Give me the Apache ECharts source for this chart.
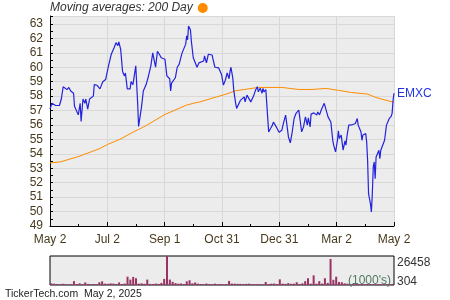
<!DOCTYPE html>
<html><head><meta charset="utf-8">
<script src="https://cdn.jsdelivr.net/npm/echarts@6/dist/echarts.min.js"></script>
<style>html,body{margin:0;padding:0;background:#fff}#c{width:450px;height:300px}</style>
</head><body><div id="c"></div>
<script>
// x tick labels (one every ~2 months, May 2 2024 .. May 2 2025)
const xTickLabels = ['May 2', 'Jul 2', 'Sep 1', 'Oct 31', 'Dec 31', 'Mar 2', 'May 2'];
const spanDays = 365;

// EMXC closing prices: day offset from May 2, 2024 and price
const priceDays = [0,2,4,6,10,12,14,16,18,20,22,23,25,26,28,30,32,33,35,37,38,40,42,44,46,47,50,53,56,59,61,62,65,68,70,72,73,75,77,79,80,82,85,86,88,91,93,94,95,97,99,102,104,105,107,109,110,112,114,116,118,120,122,124,126,127,128,129,131,133,135,137,138,140,142,144,145,146,147,149,150,152,154,156,157,158,160,163,164,166,168,170,172,173,175,177,179,181,182,184,186,188,190,191,192,194,195,197,198,200,202,204,206,207,209,211,213,214,216,218,220,221,223,225,226,227,229,230,232,234,236,237,239,241,243,244,246,248,250,251,253,255,257,259,260,261,262,264,266,267,269,271,273,274,276,277,280,283,284,286,288,290,291,293,295,297,298,300,301,303,305,306,307,309,311,313,314,315,317,318,320,321,324,326,327,330,331,332,335,336,337,338,340,341,342,343,344,345,346,347,349,350,351,353,355,357,359,360,362,363,364,365];
const prices = [57.1,57.5,57.6,57.35,57.35,57.8,58.65,58.65,58.45,58.6,58.35,58.45,58.2,57.3,57.2,56.7,57.5,56.25,57.8,57.5,57.8,57.1,57.8,57.85,58.0,58.8,58.75,58.5,59.0,59.15,59.27,60.08,60.9,61.35,61.7,61.5,61.75,61.24,59.7,59.4,59.6,58.5,58.5,59.0,58.8,60.1,57.5,55.9,56.03,57.2,58.35,58.8,59.27,59.4,60.1,61.0,60.9,60.0,61.1,60.9,60.66,60.6,60.55,59.4,59.5,59.2,58.35,58.9,58.8,59.27,60.0,60.2,60.1,60.96,60.9,61.6,62.17,61.9,62.86,62.6,61.8,60.66,60.6,60.0,60.1,60.3,60.3,60.43,60.78,60.3,60.9,61.0,60.85,60.55,60.0,59.95,59.95,59.85,59.5,58.76,59.1,59.6,59.2,59.7,60.0,59.23,58.4,57.5,57.15,57.07,57.7,57.6,57.95,57.6,58.07,58.2,57.6,57.7,58.0,58.4,58.65,58.3,58.55,58.2,58.53,58.3,58.45,58.4,55.52,55.75,55.99,56.2,55.99,55.75,55.5,55.4,55.64,56.2,56.68,56.2,55.17,54.76,55.52,56.45,56.56,56.8,56.9,57.03,57.15,55.52,55.87,56.56,55.99,56.5,55.87,56.75,56.84,56.68,56.9,56.7,57.07,57.2,57.5,57.03,56.56,56.5,56.2,54.94,54.6,54.13,54.94,55.6,55.06,55.3,54.25,54.9,54.6,55.17,55.99,55.9,56.0,56.1,56.1,56.45,55.99,55.52,54.94,55.3,55.4,54.83,53.56,51.24,50.55,49.97,51.24,53.1,53.44,52.28,53.78,53.9,54.25,53.67,54.25,54.37,54.94,55.99,56.0,56.45,56.6,56.8,57.7,58.2];

// 200-day moving average
const maDays = [0,11,31,53,61,74,90,94,101,122,145,152,159,177,186,197,221,246,264,278,293,306,320,337,346,363,365];
const maValues = [53.37,53.44,53.83,54.37,54.65,55.0,55.57,55.69,55.92,56.73,57.38,57.5,57.6,57.95,58.12,58.37,58.6,58.6,58.46,58.46,58.53,58.4,58.25,58.14,57.9,57.6,57.58];

// Volume (1000's), one bar per 3-day slot
const volumeValues = [1800,1500,1200,800,1400,900,700,1000,3800,1200,1800,1000,2600,1300,900,1200,1000,2800,3600,1500,1400,1800,1600,1200,2600,1200,1600,7800,5200,7600,6400,1500,1800,1400,5200,1300,1200,1600,1300,2200,5800,26458,5200,3200,2000,1500,1700,1200,3600,4600,1800,2600,1500,1200,1000,1600,1200,1000,1500,1000,1200,800,1000,4000,1600,1500,1400,1300,1200,1300,1500,1100,1000,1200,900,700,3000,1200,1500,1600,1200,5400,1500,1300,2000,1400,1500,2800,1200,1800,3800,6400,1500,9000,1500,3800,1600,6400,2200,23800,5000,7800,3000,2800,1800,1500,1200,1400,1000,1200,1300,1000,1100,1200,900,1000,1200,900,1000,1100,1200,1300];
const volumeTicks = [304, 26458];

const toX = d => d * (xTickLabels.length - 1) / spanDays;
const priceData = priceDays.map((d, i) => [toX(d), prices[i]]);
const maData = maDays.map((d, i) => [toX(d), maValues[i]]);
const volCats = volumeValues.map((_, i) => String(i));

const labelColor = '#47391c';
const font = "'Liberation Sans', Arial, sans-serif";

const chart = echarts.init(document.getElementById('c'), null, {renderer: 'canvas'});
chart.setOption({
  animation: false,
  textStyle: {fontFamily: font},
  title: [
    {text: 'TickerTech.com  May 2, 2025', left: 5, top: 289, padding: 0,
     textStyle: {fontSize: 10.5, fontWeight: 'normal', color: '#222', fontFamily: font}},
    {text: "(1000's)", left: 348, top: 275, padding: 0, z: 10,
     textStyle: {fontSize: 12, fontWeight: 'normal', color: '#4e7b62', fontFamily: font}}
  ],
  legend: {
    left: 50, top: 2, padding: 0, align: 'right', itemWidth: 10, itemHeight: 10,
    textStyle: {fontStyle: 'italic', fontSize: 12, color: '#333', fontFamily: font},
    data: [{name: 'Moving averages: 200 Day', icon: 'circle'}]
  },
  grid: [
    {left: 50, top: 16, width: 344, height: 210, show: true, backgroundColor: '#ececec', borderWidth: 0},
    {left: 50, top: 256, width: 344, height: 29, show: true, backgroundColor: '#ececec', borderColor: '#000', borderWidth: 1}
  ],
  xAxis: [
    {type: 'value', gridIndex: 0, min: 0, max: xTickLabels.length - 1, interval: 1,
     axisLine: {show: true, lineStyle: {color: '#000'}},
     axisTick: {show: true, inside: true, length: 4, lineStyle: {color: '#000'}},
     minorTick: {show: true, splitNumber: 2, length: 2, lineStyle: {color: '#000'}},
     splitLine: {show: true, lineStyle: {color: '#d8d8d8'}},
     axisLabel: {margin: 8, fontSize: 12, color: labelColor, fontFamily: font,
       formatter: v => xTickLabels[Math.round(v)] || ''}},
    {type: 'category', gridIndex: 1, data: volCats, show: false, boundaryGap: true}
  ],
  yAxis: [
    {type: 'value', gridIndex: 0, min: 49, max: 63.55, interval: 1,
     axisLine: {show: true, lineStyle: {color: '#000'}},
     axisTick: {show: true, inside: true, length: 3, lineStyle: {color: '#000'}},
     minorTick: {show: true, splitNumber: 2, length: 3, lineStyle: {color: '#000'}},
     splitLine: {show: true, lineStyle: {color: '#d8d8d8'}},
     axisLabel: {margin: 7, fontSize: 12, color: labelColor, fontFamily: font, showMaxLabel: false,
       formatter: v => Number.isInteger(v) ? String(v) : ''}},
    {type: 'value', gridIndex: 1, position: 'right', min: volumeTicks[0], max: volumeTicks[1],
     interval: volumeTicks[1] - volumeTicks[0],
     axisLine: {show: false}, axisTick: {show: false}, splitLine: {show: false},
     axisLabel: {margin: 3, fontSize: 12, color: '#333', fontFamily: font,
       formatter: v => v === volumeTicks[1] ? '{t|' + v + '}' : '{b|' + v + '}',
       rich: {t: {padding: [14, 0, 0, 0], fontSize: 12, color: '#333'}, b: {padding: [0, 0, 7, 0], fontSize: 12, color: '#333'}}}}
  ],
  series: [
    {name: 'Moving averages: 200 Day', type: 'line', xAxisIndex: 0, yAxisIndex: 0, data: maData,
     showSymbol: false, lineStyle: {color: '#ff8c00', width: 1}, itemStyle: {color: '#ff8c00'}},
    {name: 'EMXC', type: 'line', xAxisIndex: 0, yAxisIndex: 0, data: priceData,
     showSymbol: false, lineStyle: {color: '#2323dd', width: 1.2}, itemStyle: {color: '#2323dd'},
     endLabel: {show: true, formatter: 'EMXC', color: '#2233dd', fontSize: 12, distance: 3, fontFamily: font}},
    {name: 'Volume', type: 'bar', xAxisIndex: 1, yAxisIndex: 1, data: volumeValues,
     barWidth: 2, itemStyle: {color: '#993366'}}
  ]
});
</script></body></html>
